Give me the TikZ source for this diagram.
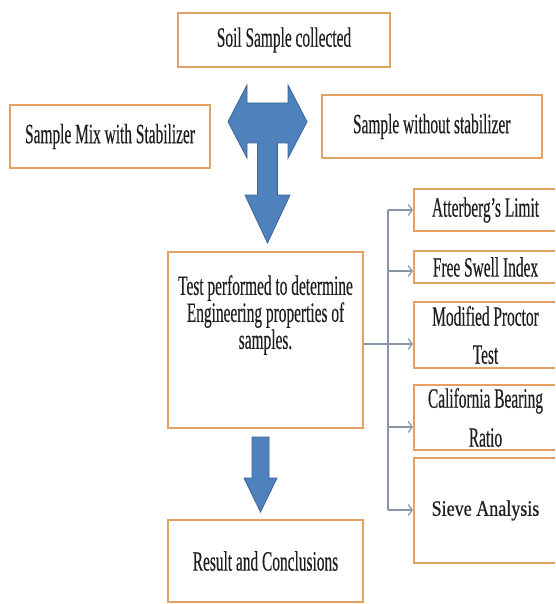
\documentclass[tikz,border=0pt]{standalone}
\usepackage{fontspec}
\setmainfont{Liberation Serif}[FakeStretch=0.55,FakeBold=0.3]
\newfontfamily\sievefont{Liberation Serif}[FakeStretch=0.82,FakeBold=0.5]
\usetikzlibrary{arrows.meta}
\definecolor{boxline}{HTML}{E2A263}
\definecolor{bluefill}{HTML}{4F81BD}
\definecolor{blueline}{HTML}{3A6596}
\definecolor{connline}{HTML}{8795A8}
\definecolor{txt}{HTML}{1E1E1E}
\tikzset{
  box/.style={draw=boxline, line width=2.2pt, fill=white, rectangle, inner sep=0pt,
    text=txt, align=center, font=\fontsize{28}{27}\selectfont},
  bigarrow/.style={fill=bluefill, draw=blueline, line width=0.8pt, line join=miter},
  conn/.style={draw=connline, line width=1.4pt},
  connarrow/.style={conn, -{Straight Barb[length=4pt,width=11pt,line width=1.2pt]}}
}
\begin{document}
\begin{tikzpicture}[x=1pt,y=-1pt]
\useasboundingbox (0,0) rectangle (555,604);
\clip (0,0) rectangle (555,604);

% top boxes
\node[box, minimum width=212pt, minimum height=54pt] (soil) at (284,40) {Soil Sample collected};
\node[box, minimum width=200pt, minimum height=63pt] (mix) at (110,136.5) {Sample Mix with Stabilizer};
\node[box, minimum width=220pt, minimum height=63pt] (without) at (431.7,126.5) {Sample without stabilizer};

% T-shaped blue arrow
\path[bigarrow] (228,121.7) -- (247,85) -- (247,103) -- (288,103) -- (288,85) -- (307,121.7)
  -- (288,158) -- (288,143) -- (277.5,143) -- (277.5,195) -- (290,195) -- (267.5,243)
  -- (245,195) -- (257.5,195) -- (257.5,143) -- (247,143) -- (247,158) -- cycle;

% test box
\node[box, minimum width=195pt, minimum height=176pt] (test) at (265.5,340) {};
\node[text=txt, align=center, font=\fontsize{28}{27}\selectfont, inner sep=0pt] (testtxt) at (265.5,315)
  {Test performed to determine\\Engineering properties of\\samples.};

% small down arrow
\path[bigarrow] (252,437) -- (269,437) -- (269,478) -- (277,478) -- (260.5,512) -- (244,478) -- (252,478) -- cycle;

% result box
\node[box, minimum width=195pt, minimum height=82pt] (result) at (265.5,561) {Result and Conclusions};

% right column boxes
\node[box, minimum width=143pt, minimum height=42pt] (att) at (485.5,210) {Atterberg’s Limit};
\node[box, minimum width=143pt, minimum height=32pt] (fsi) at (485.5,267) {Free Swell Index};
\node[box, minimum width=143pt, minimum height=66pt] (mpt) at (485.5,335) {Modified Proctor\\[11pt]Test};
\node[box, minimum width=143pt, minimum height=65pt] (cbr) at (485.5,417.5) {California Bearing\\[12pt]Ratio};
\node[box, minimum width=143pt, minimum height=105pt] (sieve) at (485.5,510.5) {\sievefont\fontsize{22}{24}\selectfont Sieve Analysis};

% connectors
\coordinate (b1) at (388,210);
\coordinate (b2) at (388,271);
\coordinate (b3) at (388,344);
\coordinate (b4) at (388,427);
\coordinate (b5) at (388,510);
\draw[conn] (b1) -- (b5);
\draw[connarrow] (test.east |- b3) -- (b3 -| mpt.west);
\draw[connarrow] (b1) -- (b1 -| att.west);
\draw[connarrow] (b2) -- (b2 -| fsi.west);
\draw[connarrow] (b4) -- (b4 -| cbr.west);
\draw[connarrow] (b5) -- (b5 -| sieve.west);
\end{tikzpicture}
\end{document}
